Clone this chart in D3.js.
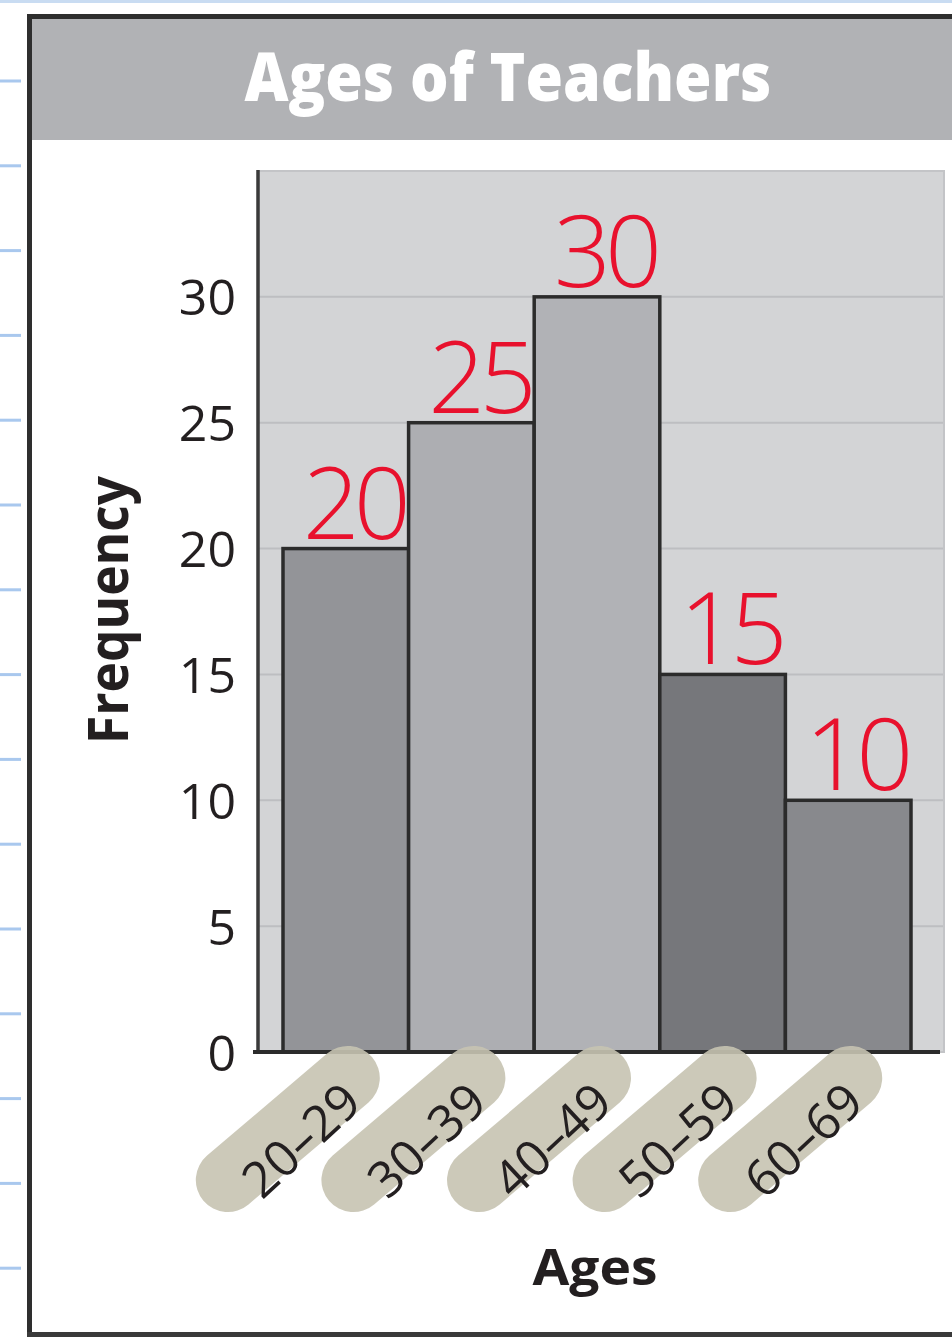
<!DOCTYPE html>
<html>
<head>
<meta charset="utf-8">
<script src="https://cdn.jsdelivr.net/npm/d3@7"></script>
<style>
  html, body { margin: 0; padding: 0; background: #ffffff; }
  svg { display: block; }
</style>
</head>
<body>
<svg id="chart" width="952" height="1339"></svg>
<script>
// ---- data ----
const categories = ["20–29", "30–39", "40–49", "50–59", "60–69"];
const frequencies = [20, 25, 30, 15, 10];
const barColors = ["#939498", "#adaeb2", "#b1b2b6", "#76777b", "#88898d"];
const yTicks = [0, 5, 10, 15, 20, 25, 30];
const titleText = "Ages of Teachers";
const xTitle = "Ages";
const yTitle = "Frequency";

// ---- layout ----
const W = 952, H = 1339;
const plot = { left: 258, right: 944, top: 171, bottom: 1052 };
const svg = d3.select("#chart");

const x = d3.scaleBand().domain(categories).range([283, 911]).padding(0);
const y = d3.scaleLinear().domain([0, 35]).range([plot.bottom, plot.top]);

// notebook decoration: top line and left ticks
svg.append("rect").attr("x", 0).attr("y", 0).attr("width", W).attr("height", 3).attr("fill", "#c9dcf2");
const notebookMarks = d3.range(15).map(i => 81 + i * 84.8);
svg.selectAll("rect.nb").data(notebookMarks).join("rect")
  .attr("class", "nb").attr("x", 0).attr("y", d => d - 1.5).attr("width", 21).attr("height", 3)
  .attr("fill", "#a9c8ee");

// frame
svg.append("rect").attr("x", 32).attr("y", 18).attr("width", W - 32).attr("height", 122).attr("fill", "#b1b2b5");
svg.append("rect").attr("x", 27).attr("y", 14).attr("width", W - 27).attr("height", 5).attr("fill", "#2e2e2e");
svg.append("rect").attr("x", 27).attr("y", 14).attr("width", 5).attr("height", 1323).attr("fill", "#2e2e2e");
svg.append("rect").attr("x", 27).attr("y", 1332).attr("width", W - 27).attr("height", 5).attr("fill", "#3a3a3a");

// title
svg.append("text").attr("x", 508).attr("y", 101)
  .attr("text-anchor", "middle")
  .attr("font-family", "'Open Sans', 'Liberation Sans', sans-serif")
  .attr("font-weight", 800).attr("font-size", 68)
  .attr("textLength", 527).attr("lengthAdjust", "spacingAndGlyphs")
  .attr("fill", "#ffffff").text(titleText);

// plot background
svg.append("rect").attr("x", plot.left).attr("y", plot.top)
  .attr("width", plot.right - plot.left).attr("height", plot.bottom - plot.top)
  .attr("fill", "#d3d4d6").attr("stroke", "#c3c4c7").attr("stroke-width", 2);

// gridlines
svg.selectAll("line.grid").data(yTicks.filter(t => t > 0)).join("line")
  .attr("class", "grid")
  .attr("x1", plot.left).attr("x2", plot.right - 1)
  .attr("y1", d => y(d)).attr("y2", d => y(d))
  .attr("stroke", "#bdbec1").attr("stroke-width", 2);

// bars
svg.selectAll("rect.bar").data(categories).join("rect")
  .attr("class", "bar")
  .attr("x", d => x(d))
  .attr("y", (d, i) => y(frequencies[i]))
  .attr("width", x.bandwidth())
  .attr("height", (d, i) => y(0) - y(frequencies[i]))
  .attr("fill", (d, i) => barColors[i])
  .attr("stroke", "#2b2b2b").attr("stroke-width", 3.5);

// axis lines
svg.append("line").attr("x1", plot.left).attr("x2", plot.left)
  .attr("y1", plot.top - 1).attr("y2", plot.bottom + 2)
  .attr("stroke", "#3a3a3a").attr("stroke-width", 3.5);
svg.append("line").attr("x1", 253).attr("x2", 940)
  .attr("y1", plot.bottom).attr("y2", plot.bottom)
  .attr("stroke", "#2b2b2b").attr("stroke-width", 4);

// y axis labels
const yAxis = d3.axisLeft(y).tickValues(yTicks).tickSize(0).tickPadding(22);
const gy = svg.append("g").attr("transform", `translate(${plot.left},0)`).call(yAxis);
gy.select(".domain").remove();
gy.selectAll("text")
  .attr("font-family", "'Open Sans', sans-serif")
  .attr("font-size", 50).attr("fill", "#231f20").attr("dy", "0.36em");

// highlighter blobs behind x labels
svg.selectAll("path.blob").data(categories).join("path")
  .attr("class", "blob")
  .attr("d", d => {
    const cx = x(d) + x.bandwidth() / 2;
    return `M${cx - 118},${1180} L${cx + 2},${1078}`;
  })
  .attr("stroke", "#c6c3b1").attr("stroke-opacity", 0.9)
  .attr("stroke-width", 64).attr("stroke-linecap", "round").attr("fill", "none");

// x labels
svg.selectAll("text.xlab").data(categories).join("text")
  .attr("class", "xlab")
  .attr("transform", d => `translate(${x(d) + x.bandwidth() / 2 - 45},1140) rotate(-43)`)
  .attr("text-anchor", "middle").attr("dy", "0.36em")
  .attr("font-family", "'Open Sans', sans-serif")
  .attr("font-size", 50).attr("fill", "#231f20")
  .text(d => d);

// axis titles
svg.append("text").attr("x", 595).attr("y", 1285)
  .attr("text-anchor", "middle")
  .attr("font-family", "'Open Sans', sans-serif").attr("font-weight", 700)
  .attr("font-size", 50).attr("textLength", 125).attr("lengthAdjust", "spacingAndGlyphs")
  .attr("fill", "#231f20").text(xTitle);
svg.append("text")
  .attr("transform", "translate(128,610) rotate(-90)")
  .attr("text-anchor", "middle")
  .attr("font-family", "'Open Sans', sans-serif").attr("font-weight", 700)
  .attr("font-size", 56).attr("textLength", 268).attr("lengthAdjust", "spacingAndGlyphs")
  .attr("fill", "#231f20").text(yTitle);

// handwritten value labels
svg.selectAll("text.val").data(categories).join("text")
  .attr("class", "val")
  .attr("x", d => x(d) + x.bandwidth() / 2 + 8)
  .attr("y", (d, i) => y(frequencies[i]) - 10)
  .attr("text-anchor", "middle")
  .attr("font-family", "'Open Sans', sans-serif").attr("font-weight", 300)
  .attr("font-size", 100).attr("letter-spacing", -6)
  .attr("fill", "#e8112d")
  .text((d, i) => frequencies[i]);
</script>
</body>
</html>
